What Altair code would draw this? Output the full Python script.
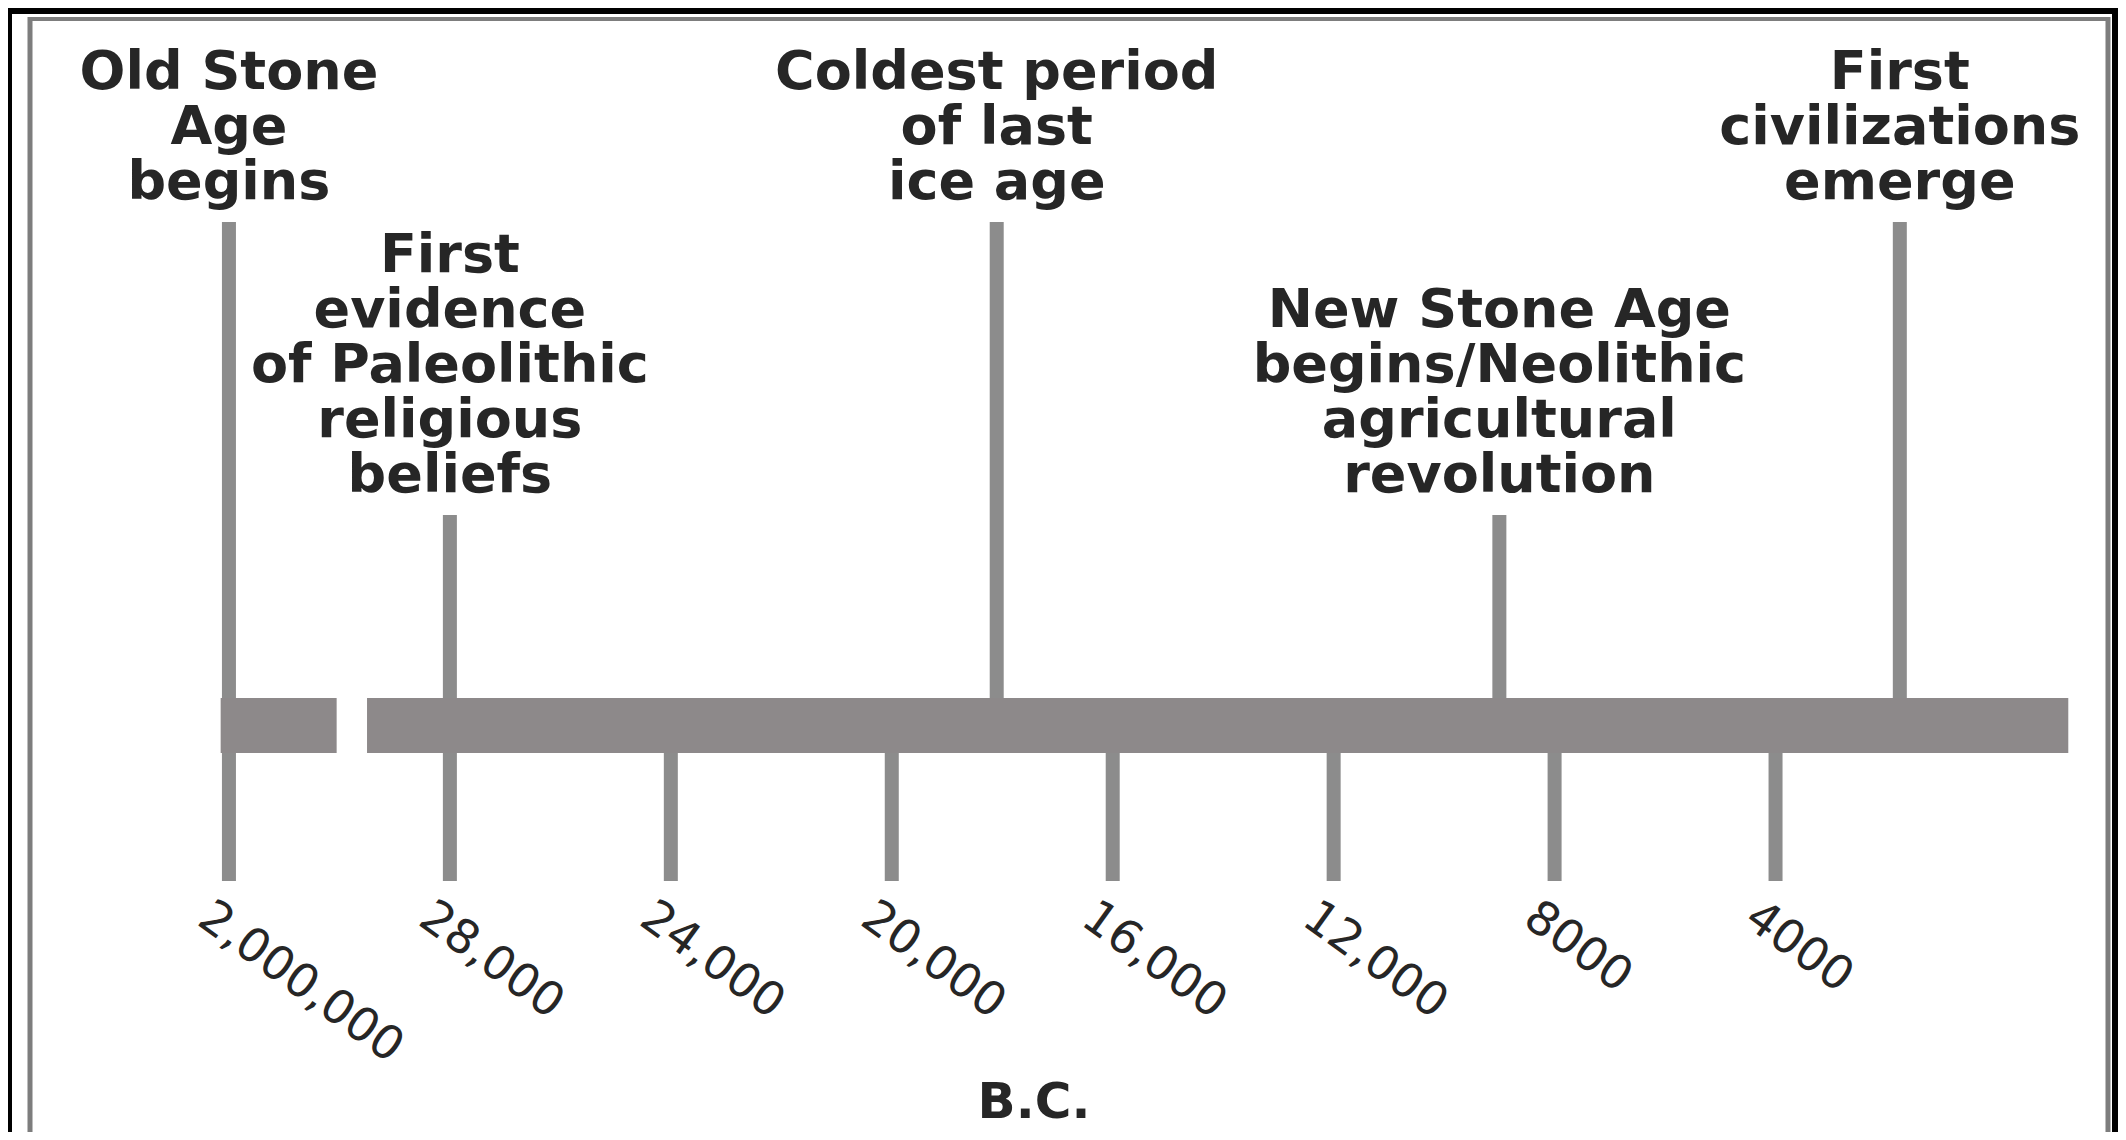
import altair as alt
import pandas as pd

# ---- data ----
event_labels = [
    "Old Stone\nAge\nbegins",
    "First\nevidence\nof Paleolithic\nreligious\nbeliefs",
    "Coldest period\nof last\nice age",
    "New Stone Age\nbegins/Neolithic\nagricultural\nrevolution",
    "First\ncivilizations\nemerge",
]
event_years_bc = [2000000, 28000, 18100, 9000, 1750]
event_tier = [0, 1, 0, 1, 0]          # 0 = upper row of captions, 1 = lower row

tick_years_bc = [2000000, 28000, 24000, 20000, 16000, 12000, 8000, 4000]
tick_labels = ["2,000,000", "28,000", "24,000", "20,000", "16,000", "12,000", "8000", "4000"]

# timeline bar pieces (broken axis): left stub for 2,000,000 and main run
bar_start = [32150, 29500]
bar_end = [30050, -1300]

axis_title = "B.C."

BREAK_POS = 32000  # where 2,000,000 B.C. sits on the broken axis

events = pd.DataFrame({"label": event_labels, "year": event_years_bc, "tier": event_tier})
ticks = pd.DataFrame({"year": tick_years_bc, "label": tick_labels})
bar = pd.DataFrame({"start": bar_start, "end": bar_end})

# one row per caption line, k = line index counted from the bottom line
cap_rows = []
for lab, yr, tr in zip(event_labels, event_years_bc, event_tier):
    parts = lab.split("\n")
    for i, p in enumerate(parts):
        cap_rows.append({"line": p, "year": yr, "tier": tr, "k": len(parts) - 1 - i})
captions = pd.DataFrame(cap_rows)

W, H = 2110, 1124
xscale = alt.Scale(domain=[-2200, 36000], reverse=True, nice=False, zero=False)
yscale = alt.Scale(domain=[0, 1], range=[214, 507])
pos_expr = f"datum.year > 100000 ? {BREAK_POS} : datum.year"

LINE = "#8c8c8c"
BAR = "#8d898a"
FRAME = "#7d7d7d"
INK = "#262626"
LH = 55

# frame
one = pd.DataFrame({"a": [0]})
paper = alt.Chart(one).mark_rect(color="white").encode(
    x=alt.value(4), x2=alt.value(2104), y=alt.value(6), y2=alt.value(H)
)
frame_left = alt.Chart(one).mark_rule(color=FRAME, strokeWidth=5).encode(
    x=alt.value(22), y=alt.value(9), y2=alt.value(H)
)
frame_right = alt.Chart(one).mark_rule(color=FRAME, strokeWidth=5).encode(
    x=alt.value(2100), y=alt.value(9), y2=alt.value(H)
)
frame_top = alt.Chart(one).mark_rule(color=FRAME, strokeWidth=4).encode(
    x=alt.value(20), x2=alt.value(2102), y=alt.value(11)
)

base_ev = alt.Chart(events).transform_calculate(pos=pos_expr)

event_lines = base_ev.mark_rule(color=LINE, strokeWidth=14).encode(
    x=alt.X("pos:Q", scale=xscale, axis=None),
    y=alt.Y("tier:Q", scale=yscale, axis=None),
    y2=alt.value(700),
)

caption_layers = []
for k in range(5):
    caption_layers.append(
        alt.Chart(captions).transform_filter(f"datum.k == {k}").transform_calculate(pos=pos_expr)
        .mark_text(
            align="center", baseline="alphabetic", dy=-23 - LH * k,
            font="DejaVu Sans", fontWeight="bold", fontSize=54, color=INK,
        ).encode(
            x=alt.X("pos:Q", scale=xscale, axis=None),
            y=alt.Y("tier:Q", scale=yscale, axis=None),
            text="line:N",
        )
    )

base_tk = alt.Chart(ticks).transform_calculate(pos=pos_expr)

tick_lines = base_tk.mark_rule(color=LINE, strokeWidth=14).encode(
    x=alt.X("pos:Q", scale=xscale, axis=None),
    y=alt.value(740),
    y2=alt.value(873),
)

tick_text = base_tk.mark_text(
    align="left", baseline="top", angle=36, dx=-2, dy=17,
    font="DejaVu Sans", fontSize=47, color=INK,
).encode(
    x=alt.X("pos:Q", scale=xscale, axis=None),
    y=alt.value(873),
    text="label:N",
)

bar_marks = alt.Chart(bar).mark_rect(color=BAR).encode(
    x=alt.X("start:Q", scale=xscale, axis=None),
    x2="end:Q",
    y=alt.value(690),
    y2=alt.value(745),
)

title_text = alt.Chart(pd.DataFrame({"t": [axis_title]})).mark_text(
    align="center", baseline="alphabetic",
    font="DejaVu Sans", fontWeight="bold", fontSize=50, color=INK,
).encode(x=alt.value(1026), y=alt.value(1110), text="t:N")

chart = alt.layer(
    paper, frame_left, frame_right, frame_top,
    event_lines, tick_lines, bar_marks, *caption_layers, tick_text, title_text,
).properties(
    width=W, height=H, background="black", padding=0,
    autosize=alt.AutoSizeParams(type="none"),
).configure_view(strokeWidth=0)

chart.save("out.html", embed_options={"renderer": "svg", "actions": False})
